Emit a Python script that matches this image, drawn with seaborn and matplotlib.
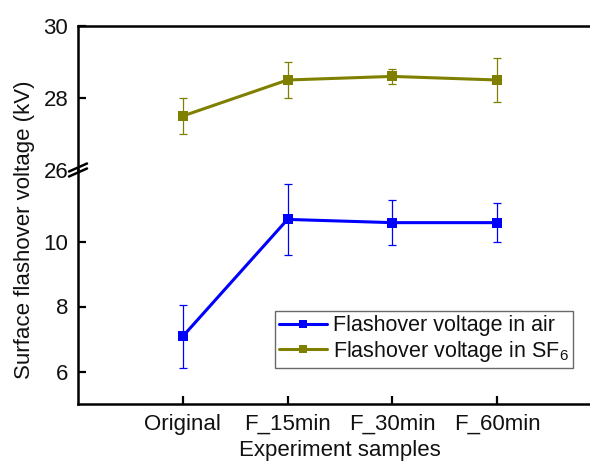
import numpy as np
import pandas as pd
import matplotlib
matplotlib.use("Agg")
import matplotlib.pyplot as plt
import seaborn as sns

categories = ["Original", "F_15min", "F_30min", "F_60min"]
air_values = [7.08, 10.68, 10.58, 10.58]
air_errors = [0.98, 1.1, 0.7, 0.6]
sf6_values = [27.5, 28.5, 28.6, 28.5]
sf6_errors = [0.5, 0.5, 0.2, 0.6]
air_label = "Flashover voltage in air"
sf6_label = "Flashover voltage in SF$_\\mathregular{6}$"
x_label = "Experiment samples"
y_label = "Surface flashover voltage (kV)"
top_ticks = [26, 28, 30]
bottom_ticks = [6, 8, 10]

sns.set_theme(style="white")
plt.rcParams["font.family"] = ["Liberation Sans", "DejaVu Sans"]
plt.rcParams["mathtext.fontset"] = "custom"
plt.rcParams["mathtext.rm"] = "Liberation Sans"
plt.rcParams["text.color"] = "#111111"
plt.rcParams["axes.labelcolor"] = "#111111"

W, H = 590, 462
fig = plt.figure(figsize=(W / 100, H / 100), dpi=100)
left = 78 / W
right = 1.02
top_y = 1 - 26 / H
brk_y = 1 - 170 / H
bot_y = 1 - 404 / H
ax_top = fig.add_axes([left, brk_y, right - left, top_y - brk_y])
ax_bot = fig.add_axes([left, bot_y, right - left, brk_y - bot_y])

x = np.arange(len(categories))
df = pd.DataFrame({"x": x, "air": air_values, "sf6": sf6_values})

blue = "#0000FF"
olive = "#808000"

sns.lineplot(data=df, x="x", y="sf6", ax=ax_top, color=olive, marker="s",
             markersize=7, markeredgewidth=0, linewidth=2.2, label=sf6_label, legend=False)
ax_top.errorbar(x, sf6_values, yerr=sf6_errors, fmt="none", ecolor=olive,
                elinewidth=0.9, capsize=3, capthick=0.9)
sns.lineplot(data=df, x="x", y="air", ax=ax_bot, color=blue, marker="s",
             markersize=7, markeredgewidth=0, linewidth=2.2, label=air_label, legend=False)
ax_bot.errorbar(x, air_values, yerr=air_errors, fmt="none", ecolor=blue,
                elinewidth=0.9, capsize=3, capthick=0.9)

for ax in (ax_top, ax_bot):
    ax.set_xlim(-1, 4.0)
    ax.set_facecolor("white")
    ax.spines["right"].set_visible(False)
    for s in ax.spines.values():
        s.set_linewidth(1.8)
        s.set_color("black")
    ax.tick_params(direction="in", length=6, width=1.6, labelsize=16, colors="black",
                   left=True, bottom=True, top=False, right=False, pad=7)
    ax.tick_params(labelcolor="#111111")
    ax.set_ylabel("")
    ax.set_xlabel("")

ax_top.set_ylim(26, 30)
ax_top.set_yticks(top_ticks)
ax_top.spines["bottom"].set_visible(False)
ax_top.tick_params(axis="x", bottom=False, labelbottom=False)
ax_top.yaxis.get_major_ticks()[0].tick1line.set_visible(False)

ax_bot.set_ylim(5, 12.2)
ax_bot.set_yticks(bottom_ticks)
ax_bot.spines["top"].set_visible(False)
ax_bot.set_xticks(x)
ax_bot.set_xticklabels(categories)
ax_bot.set_xlabel(x_label, fontsize=16, labelpad=4)

fig.text(25 / W, 1 - 230 / H, y_label, rotation=90, fontsize=16,
         ha="center", va="center")

# break marks on the left spine
yb = 170
for dy in (-2.5, 2.5):
    fig.add_artist(plt.Line2D([69 / W, 87 / W],
                              [1 - (yb + dy + 4) / H, 1 - (yb + dy - 4) / H],
                              color="black", linewidth=1.8, transform=fig.transFigure))

handles = [ax_bot.get_lines()[0], ax_top.get_lines()[0]]
leg = fig.legend(handles, [air_label, sf6_label], loc="upper left",
                 bbox_to_anchor=(275 / W, 1 - 311 / H), bbox_transform=fig.transFigure,
                 borderaxespad=0, fontsize=15.5, frameon=True, fancybox=False,
                 handlelength=2.2, handletextpad=0.3, labelspacing=0.12,
                 borderpad=0.2, markerscale=0.8)
leg.get_frame().set_edgecolor("#444444")
leg.get_frame().set_linewidth(1.0)

fig.savefig("out.png", dpi=100, facecolor="white")
